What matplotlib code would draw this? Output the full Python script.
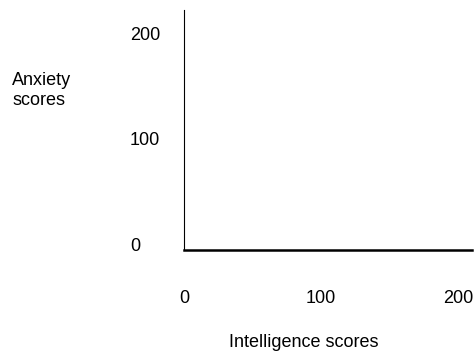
import matplotlib.pyplot as plt

plt.rcParams['font.family'] = ['Liberation Sans', 'DejaVu Sans']

x_ticks = [0, 100, 200]
y_ticks = [0, 100, 200]
x_label = 'Intelligence scores'
y_label = 'Anxiety\nscores'

fig = plt.figure(figsize=(4.76, 3.56), dpi=100)
ax = fig.add_axes([184/476, 1-250/356, 288/476, 240/356])

ax.set_xlim(0, 210)
ax.set_ylim(-5, 222)
ax.set_xticks(x_ticks)
ax.set_yticks(y_ticks)
ax.tick_params(axis='both', length=0, labelsize=13)
ax.tick_params(axis='x', pad=29)
ax.tick_params(axis='y', pad=39)
for lbl in ax.get_yticklabels():
    lbl.set_horizontalalignment('left')

for s in ['top', 'right']:
    ax.spines[s].set_visible(False)
ax.spines['left'].set_linewidth(0.8)
ax.spines['bottom'].set_linewidth(1.8)

ax.set_xlabel(x_label, fontsize=13, va='center')
ax.xaxis.set_label_coords(0.417, -0.385)
ax.set_ylabel(y_label, fontsize=13, rotation=0, ha='left', va='center',
              multialignment='left', linespacing=1.25)
ax.yaxis.set_label_coords(-0.597, 0.665)

plt.savefig('out.png', dpi=100)
